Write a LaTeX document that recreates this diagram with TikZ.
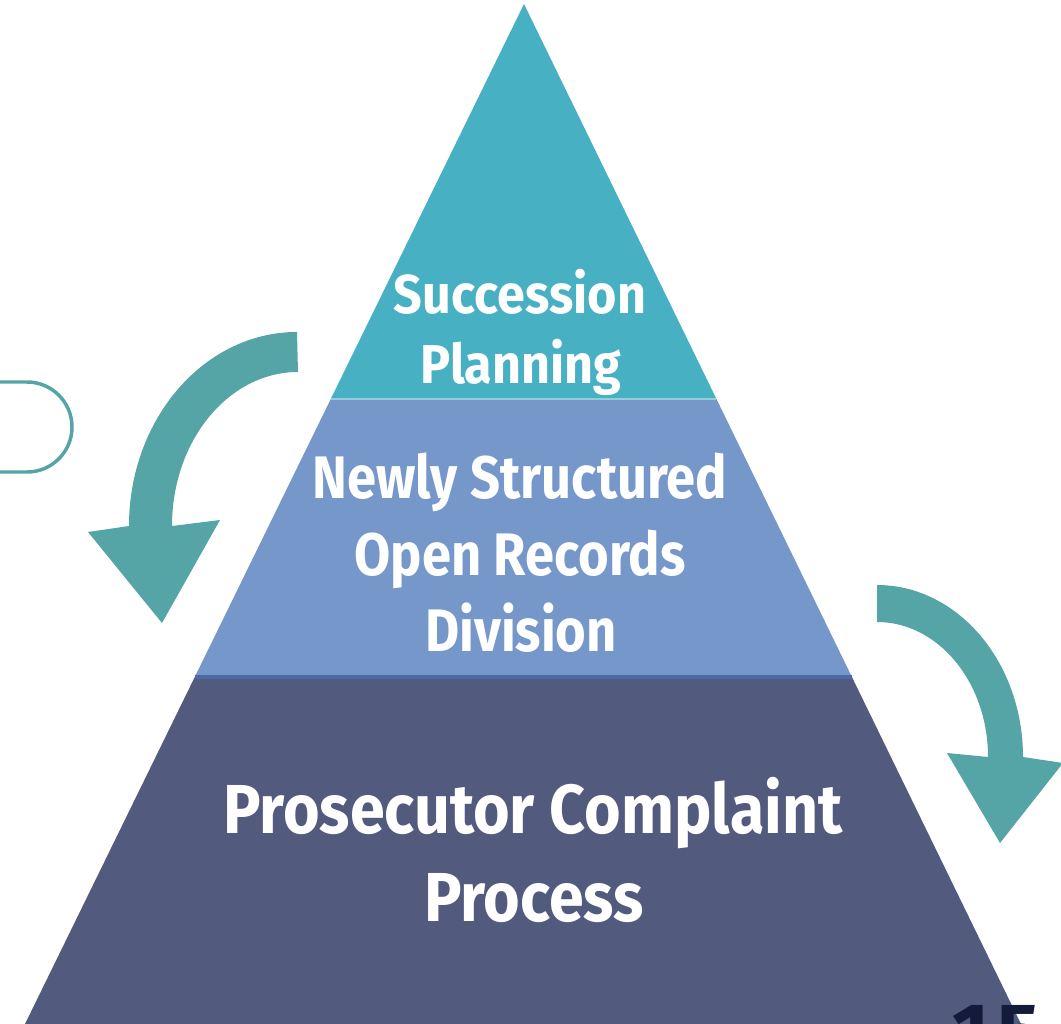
\documentclass[tikz,border=0pt]{standalone}
\usepackage{fontspec}
\usetikzlibrary{calc}
\newfontfamily\condfonta{Fira Sans}[FakeStretch=0.92]
\newfontfamily\condfontb{Fira Sans}[FakeStretch=0.875]
\newfontfamily\condfontc{Fira Sans}[FakeStretch=0.905]
\newfontfamily\numfont{Fira Sans}
\definecolor{bandtop}{HTML}{47B0C2}
\definecolor{bandmid}{HTML}{7697CA}
\definecolor{bandlow}{HTML}{525A7E}
\definecolor{seam}{HTML}{4C6BA6}
\definecolor{arrowteal}{HTML}{55A4A6}
\definecolor{pagenum}{HTML}{141A3A}
\tikzset{
  label1/.style={anchor=base, text=white, inner sep=0pt,
    font=\condfonta\bfseries\fontsize{41}{41}\selectfont},
  label2/.style={anchor=base, text=white, inner sep=0pt,
    font=\condfontb\bfseries\fontsize{45}{45}\selectfont},
  label3/.style={anchor=base, text=white, inner sep=0pt,
    font=\condfontc\bfseries\fontsize{52}{52}\selectfont},
  turnarrow/.style={fill=arrowteal},
}
\begin{document}
\begin{tikzpicture}[x=0.75pt,y=-0.75pt]
\useasboundingbox (0,0) rectangle (1061,1024);

% pyramid corners
\coordinate (apex) at (524,4);
\coordinate (bl) at (25,1024);
\coordinate (br) at (1021,1024);
% tier edges
\coordinate (l1) at ($(apex)!0.38725!(bl)$);
\coordinate (r1) at ($(apex)!0.38725!(br)$);
\coordinate (l2) at ($(apex)!0.65980!(bl)$);
\coordinate (r2) at ($(apex)!0.65980!(br)$);

\fill[bandtop] (apex) -- (r1) -- (l1) -- cycle;
\fill[bandmid] (l1) -- (r1) -- (r2) -- (l2) -- cycle;
\fill[bandlow] (l2) -- (r2) -- (br) -- (bl) -- cycle;
\draw[bandtop!60!white, line width=1.2] (l1) -- (r1);
\draw[seam, line width=2.5] (l2) -- (r2);

% tier labels
\node[label1] (s1) at (520,313) {Succession};
\node[label1] (s2) at (521,383) {Planning};
\node[label2] (m1) at (520,498) {Newly Structured};
\node[label2] (m2) at (520,575) {Open Records};
\node[label2] (m3) at (521,651) {Division};
\node[label3] (b1) at (533,833) {Prosecutor Complaint};
\node[label3] (b2) at (534,921) {Process};

% curved arrow on the left
\fill[turnarrow] (297,332)
  arc[start angle=-90, end angle=-180, x radius=168, y radius=194]
  -- (88,532) -- (162,623) -- (220,520) -- (172,526)
  arc[start angle=180, end angle=270, x radius=126, y radius=154]
  -- cycle;

% curved arrow on the right
\fill[turnarrow] (877,585)
  arc[start angle=-90, end angle=0, x radius=146, y radius=172]
  -- (1063,763) -- (1000,843) -- (947,753) -- (988,757)
  arc[start angle=0, end angle=-90, x radius=111, y radius=135]
  -- cycle;

% rounded tab on the left edge
\draw[arrowteal, line width=2.6] (-10,382) -- (27,382)
  arc[start angle=-90, end angle=90, radius=45] -- (-10,472);

% page number
\node[anchor=north west, inner sep=0pt, text=pagenum,
  font=\numfont\bfseries\fontsize{60}{60}\selectfont] (pg) at (952,1005) {1\kern6pt5};
\end{tikzpicture}
\end{document}
